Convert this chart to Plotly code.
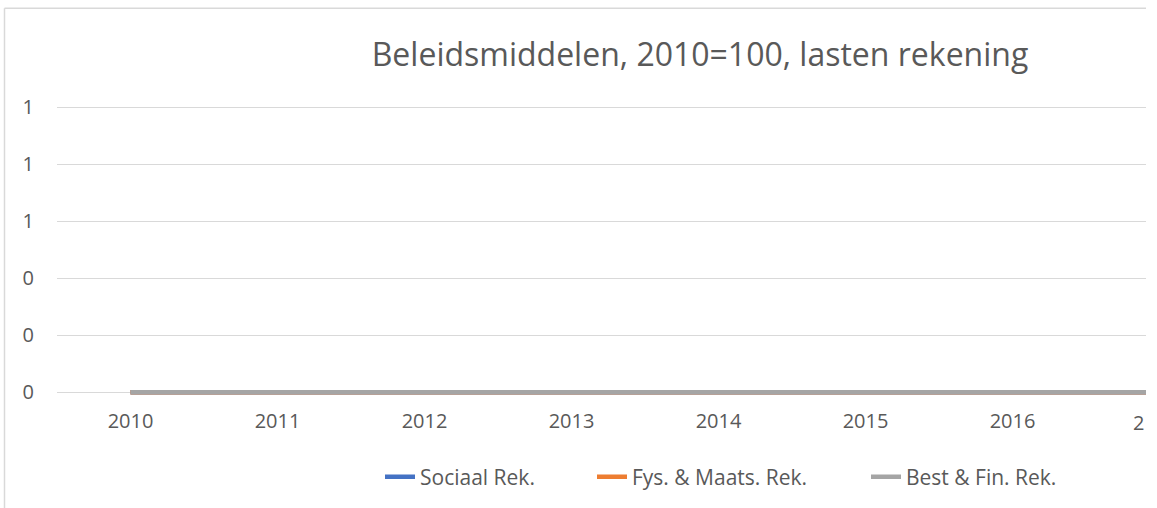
import plotly.graph_objects as go

years = ["2010", "2011", "2012", "2013", "2014", "2015", "2016", "2017"]
sociaal = [0, 0, 0, 0, 0, 0, 0, 0]
fys_maats = [0, 0, 0, 0, 0, 0, 0, 0]
best_fin = [0, 0, 0, 0, 0, 0, 0, 0]

series = [
    ("Sociaal Rek.", sociaal, "#4472C4", "legend", 421),
    ("Fys. & Maats. Rek.", fys_maats, "#ED7D31", "legend2", 633),
    ("Best & Fin. Rek.", best_fin, "#A5A5A5", "legend3", 907),
]

W, H = 1157, 508
Y_LO, Y_HI = -0.01, 1.012
L, R = 57, 1146
PX_PER_UNIT = 286.0
B = 393 - Y_LO * PX_PER_UNIT
T = 107 - (Y_HI - 1) * PX_PER_UNIT
FONT = "Open Sans"
TXT = "#595959"

fig = go.Figure()
for name, vals, col, lg, _ in series:
    fig.add_trace(go.Scatter(x=years, y=vals, name=name, mode="lines",
                             legend=lg, line=dict(color=col, width=4.5)))


def px_x(p):
    return (p - L) / (R - L)


def px_y(p):
    return (B - p) / (B - T)


legends = {}
for name, vals, col, lg, text_left in series:
    legends[lg] = dict(orientation="h", x=px_x(text_left - 41), xanchor="left",
                       y=px_y(477), yanchor="middle",
                       font=dict(family=FONT, size=21, color=TXT),
                       bgcolor="rgba(0,0,0,0)")

fig.update_layout(
    width=W, height=H,
    margin=dict(l=L, r=W - R, t=T, b=H - B, pad=0),
    paper_bgcolor="white", plot_bgcolor="white",
    font=dict(family=FONT, size=20, color=TXT),
    title=dict(text="Beleidsmiddelen, 2010=100, lasten rekening",
               x=700 / W, xref="container", xanchor="center",
               y=1 - 55 / H, yref="container", yanchor="middle",
               font=dict(family=FONT, size=32, color=TXT)),
    showlegend=True,
    xaxis=dict(type="category", range=[-0.5, 6.908], showgrid=False,
               zeroline=False, showline=False, ticks="",
               ticklabelstandoff=12,
               tickfont=dict(family=FONT, size=20, color=TXT)),
    yaxis=dict(range=[Y_LO, Y_HI], dtick=0.2, tick0=0, tickformat=".0f",
               showgrid=True, gridcolor="#D9D9D9", gridwidth=1,
               zeroline=False, showline=False, ticks="",
               ticklabelstandoff=22,
               tickfont=dict(family=FONT, size=20, color=TXT)),
    shapes=[
        dict(type="line", xref="paper", yref="paper",
             x0=px_x(4.5), x1=px_x(4.5), y0=px_y(7.5), y1=px_y(H + 5),
             line=dict(color="#D9D9D9", width=1.5)),
        dict(type="line", xref="paper", yref="paper",
             x0=px_x(4.5), x1=1, y0=px_y(7.5), y1=px_y(7.5),
             line=dict(color="#D9D9D9", width=1.5)),
    ],
    annotations=[
        dict(text="2", xref="paper", yref="paper", x=1, xanchor="right",
             y=px_y(423), yanchor="middle", showarrow=False,
             font=dict(family=FONT, size=20, color=TXT)),
    ],
    **legends,
)

fig.write_html("out.html", config={"displayModeBar": False},
               post_script="document.body.style.margin='0';"
                           "document.body.style.overflow='hidden';")
